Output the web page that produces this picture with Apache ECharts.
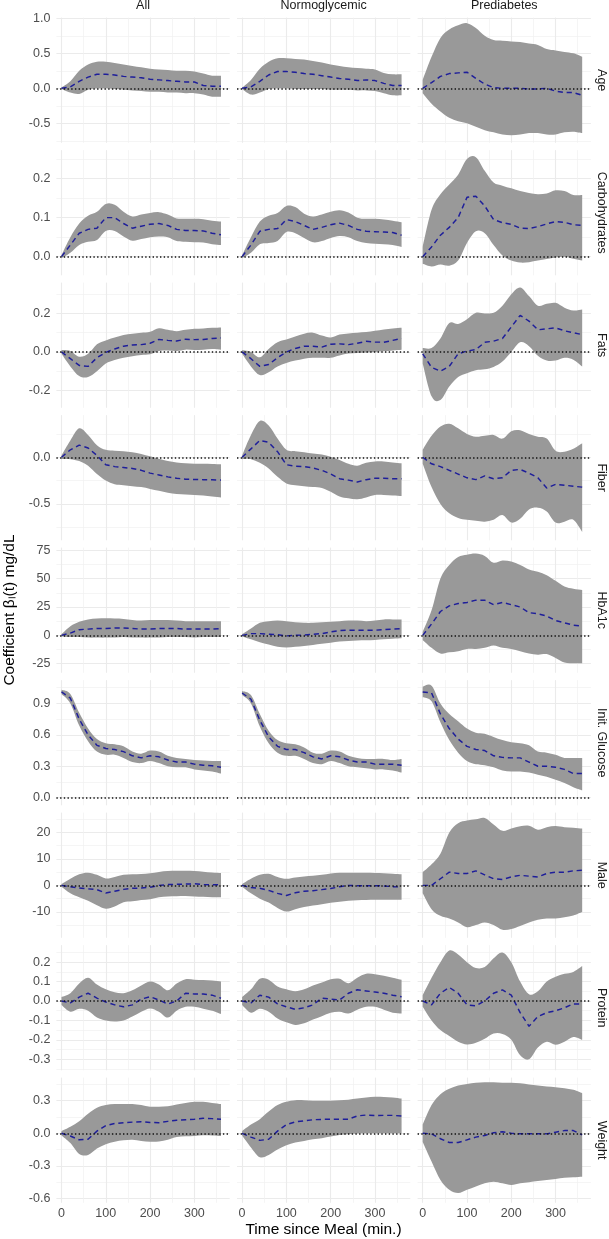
<!DOCTYPE html>
<html>
<head>
<meta charset="utf-8">
<script src="https://cdn.jsdelivr.net/npm/echarts@6/dist/echarts.min.js"></script>
<style>
  html,body{margin:0;padding:0;background:#fff;}
  #chart{width:609px;height:1239px;}
</style>
</head>
<body>
<div id="chart"></div>
<script>
// time since meal (min.)
const T = [0,20,40,60,80,100,120,140,160,180,200,220,240,260,280,300,320,340,360];

const colNames = ['All', 'Normoglycemic', 'Prediabetes'];
const rowNames = ['Age', 'Carbohydrates', 'Fats', 'Fiber', 'HbA1c', 'Init. Glucose', 'Male', 'Protein', 'Weight'];

// x axis breaks
const xMajor = [0, 100, 200, 300];
const xMinor = [50, 150, 250, 350];

// y axis breaks per row
const yMajor = [
  [-0.5, 0, 0.5, 1],
  [0, 0.1, 0.2],
  [-0.2, 0, 0.2],
  [-0.5, 0],
  [-25, 0, 25, 50, 75],
  [0, 0.3, 0.6, 0.9],
  [-10, 0, 10, 20],
  [-0.3, -0.2, -0.1, 0, 0.1, 0.2],
  [-0.6, -0.3, 0, 0.3]
];
const yMinor = [
  [-0.75, -0.25, 0.25, 0.75],
  [0.05, 0.15, 0.25],
  [-0.1, 0.1, 0.3],
  [-0.75, -0.25, 0.25],
  [-12.5, 12.5, 37.5, 62.5],
  [0.15, 0.45, 0.75, 1.05],
  [-15, -5, 5, 15, 25],
  [-0.35, -0.25, -0.15, -0.05, 0.05, 0.15, 0.25],
  [-0.45, -0.15, 0.15, 0.45]
];
const yRange = [
  [-0.779, 1.01], [-0.0477, 0.273], [-0.29, 0.36], [-0.89, 0.452], [-33, 77.3],
  [-0.073, 1.123], [-19.8, 27.5], [-0.357, 0.288], [-0.64, 0.513]
];
const yDigits = [1, 1, 1, 1, 0, 1, 0, 1, 1];

// ---- Age
const ageAllEst = [0, 0.02, 0.1, 0.16, 0.2, 0.2, 0.19, 0.17, 0.16, 0.15, 0.13, 0.12, 0.11, 0.1, 0.09, 0.09, 0.04, 0.03, 0.03];
const ageAllHi  = [0.01, 0.1, 0.25, 0.34, 0.38, 0.38, 0.36, 0.34, 0.32, 0.3, 0.28, 0.27, 0.26, 0.25, 0.25, 0.24, 0.21, 0.18, 0.18];
const ageAllLo  = [-0.01, -0.06, -0.08, -0.02, 0, 0, -0.01, -0.02, -0.03, -0.04, -0.05, -0.05, -0.06, -0.06, -0.07, -0.07, -0.09, -0.12, -0.12];
const ageNorEst = [0, 0.02, 0.1, 0.19, 0.24, 0.24, 0.23, 0.21, 0.2, 0.18, 0.16, 0.14, 0.13, 0.11, 0.12, 0.11, 0.07, 0.04, 0.04];
const ageNorHi  = [0.01, 0.12, 0.28, 0.38, 0.43, 0.43, 0.42, 0.41, 0.39, 0.37, 0.34, 0.32, 0.3, 0.29, 0.28, 0.27, 0.22, 0.2, 0.2];
const ageNorLo  = [-0.01, -0.09, -0.06, -0.01, 0, 0, -0.01, -0.01, -0.01, -0.01, -0.02, -0.02, -0.02, -0.03, -0.03, -0.04, -0.07, -0.1, -0.1];
const agePreEst = [0, 0.08, 0.17, 0.21, 0.22, 0.23, 0.14, 0.06, 0.01, 0, 0, 0, -0.01, -0.01, 0, -0.04, -0.06, -0.06, -0.1];
const agePreHi  = [0.12, 0.45, 0.72, 0.84, 0.9, 0.93, 0.86, 0.75, 0.69, 0.68, 0.67, 0.66, 0.64, 0.62, 0.56, 0.54, 0.52, 0.5, 0.45];
const agePreLo  = [-0.07, -0.22, -0.33, -0.42, -0.47, -0.5, -0.55, -0.6, -0.63, -0.66, -0.67, -0.66, -0.64, -0.64, -0.66, -0.66, -0.63, -0.62, -0.64];

// ---- Carbohydrates
const carbAllEst = [0, 0.03, 0.06, 0.07, 0.073, 0.1, 0.1, 0.085, 0.073, 0.078, 0.083, 0.085, 0.08, 0.07, 0.067, 0.067, 0.066, 0.06, 0.056];
const carbAllHi  = [0.004, 0.05, 0.085, 0.105, 0.115, 0.135, 0.133, 0.115, 0.103, 0.108, 0.112, 0.114, 0.108, 0.098, 0.097, 0.097, 0.096, 0.092, 0.09];
const carbAllLo  = [-0.004, 0.01, 0.03, 0.038, 0.043, 0.066, 0.066, 0.052, 0.041, 0.045, 0.05, 0.052, 0.05, 0.04, 0.038, 0.037, 0.036, 0.032, 0.03];
const carbNorEst = [0, 0.03, 0.065, 0.07, 0.072, 0.095, 0.09, 0.08, 0.07, 0.075, 0.082, 0.086, 0.08, 0.07, 0.065, 0.064, 0.063, 0.062, 0.055];
const carbNorHi  = [0.004, 0.05, 0.09, 0.105, 0.112, 0.13, 0.127, 0.11, 0.103, 0.108, 0.115, 0.119, 0.113, 0.1, 0.097, 0.097, 0.095, 0.092, 0.088];
const carbNorLo  = [-0.004, 0.01, 0.032, 0.035, 0.04, 0.063, 0.06, 0.048, 0.037, 0.04, 0.048, 0.053, 0.05, 0.04, 0.035, 0.033, 0.032, 0.03, 0.025];
const carbPreEst = [0, 0.025, 0.055, 0.075, 0.1, 0.152, 0.155, 0.13, 0.095, 0.087, 0.083, 0.073, 0.072, 0.077, 0.084, 0.09, 0.088, 0.082, 0.08];
const carbPreHi  = [0.025, 0.12, 0.16, 0.185, 0.21, 0.25, 0.255, 0.22, 0.19, 0.182, 0.175, 0.168, 0.163, 0.16, 0.162, 0.17, 0.168, 0.158, 0.158];
const carbPreLo  = [-0.018, -0.025, -0.02, -0.023, -0.01, 0.035, 0.065, 0.06, 0.03, 0.003, -0.01, -0.015, -0.014, -0.01, -0.006, -0.002, 0, -0.005, -0.01];

// ---- Fats
const fatAllEst = [0, -0.035, -0.07, -0.075, -0.03, -0.002, 0.015, 0.03, 0.036, 0.038, 0.045, 0.065, 0.06, 0.057, 0.066, 0.064, 0.065, 0.07, 0.073];
const fatAllHi  = [0.01, 0.005, -0.025, -0.01, 0.04, 0.06, 0.075, 0.088, 0.095, 0.1, 0.105, 0.123, 0.115, 0.108, 0.115, 0.12, 0.122, 0.125, 0.127];
const fatAllLo  = [-0.01, -0.075, -0.125, -0.13, -0.1, -0.06, -0.042, -0.03, -0.022, -0.016, -0.012, 0.005, 0.008, 0.005, 0.012, 0.01, 0.012, 0.015, 0.012];
const fatNorEst = [0, -0.035, -0.075, -0.065, -0.03, 0, 0.018, 0.03, 0.03, 0.025, 0.04, 0.042, 0.038, 0.045, 0.055, 0.052, 0.05, 0.06, 0.07];
const fatNorHi  = [0.01, 0, -0.028, 0.015, 0.05, 0.064, 0.08, 0.095, 0.1, 0.085, 0.075, 0.09, 0.096, 0.1, 0.103, 0.11, 0.117, 0.122, 0.125];
const fatNorLo  = [-0.01, -0.075, -0.12, -0.105, -0.075, -0.057, -0.045, -0.035, -0.03, -0.03, -0.03, -0.018, -0.008, -0.005, -0.003, 0, 0.003, 0.008, 0.012];
const fatPreEst = [-0.01, -0.08, -0.1, -0.075, -0.01, 0.005, 0.012, 0.05, 0.056, 0.07, 0.13, 0.19, 0.16, 0.115, 0.12, 0.125, 0.11, 0.1, 0.09];
const fatPreHi  = [0.02, 0.02, 0.07, 0.15, 0.145, 0.17, 0.203, 0.2, 0.203, 0.24, 0.3, 0.335, 0.29, 0.24, 0.25, 0.255, 0.23, 0.215, 0.22];
const fatPreLo  = [-0.06, -0.23, -0.25, -0.18, -0.13, -0.11, -0.095, -0.09, -0.078, -0.05, 0, 0.05, 0.03, -0.02, -0.045, -0.045, -0.03, -0.04, -0.075];

// ---- Fiber
const fibAllEst = [0, 0.08, 0.13, 0.1, 0.02, -0.08, -0.1, -0.11, -0.12, -0.14, -0.17, -0.19, -0.21, -0.225, -0.235, -0.238, -0.24, -0.242, -0.245];
const fibAllHi  = [0.02, 0.18, 0.31, 0.24, 0.13, 0.08, 0.07, 0.065, 0.055, 0.035, 0.01, -0.015, -0.04, -0.055, -0.065, -0.07, -0.07, -0.072, -0.075];
const fibAllLo  = [-0.02, -0.02, -0.04, -0.09, -0.18, -0.25, -0.29, -0.3, -0.31, -0.32, -0.34, -0.36, -0.38, -0.395, -0.4, -0.405, -0.41, -0.42, -0.43];
const fibNorEst = [0, 0.09, 0.18, 0.16, 0.06, -0.08, -0.095, -0.1, -0.115, -0.14, -0.18, -0.23, -0.245, -0.265, -0.24, -0.225, -0.225, -0.23, -0.23];
const fibNorHi  = [0.02, 0.24, 0.39, 0.34, 0.2, 0.08, 0.065, 0.055, 0.04, 0.03, 0.005, -0.03, -0.07, -0.09, -0.06, -0.045, -0.045, -0.055, -0.065];
const fibNorLo  = [-0.02, -0.02, -0.06, -0.12, -0.21, -0.28, -0.3, -0.31, -0.32, -0.33, -0.37, -0.42, -0.44, -0.45, -0.43, -0.405, -0.405, -0.41, -0.415];
const fibPreEst = [0, -0.07, -0.1, -0.14, -0.18, -0.22, -0.24, -0.2, -0.23, -0.22, -0.14, -0.13, -0.17, -0.22, -0.33, -0.29, -0.3, -0.31, -0.32];
const fibPreHi  = [0.08, 0.23, 0.33, 0.36, 0.31, 0.25, 0.22, 0.23, 0.24, 0.2, 0.28, 0.29, 0.25, 0.22, 0.2, 0.07, 0.06, 0.09, 0.15];
const fibPreLo  = [-0.07, -0.32, -0.5, -0.6, -0.65, -0.67, -0.68, -0.69, -0.67, -0.62, -0.7, -0.66, -0.56, -0.54, -0.58, -0.7, -0.69, -0.67, -0.8];

// ---- HbA1c
const hbaAllEst = [0, 2, 5, 5.5, 6, 6, 6.5, 6.5, 6, 5.5, 5.5, 6, 6, 6, 5.5, 5.5, 5.5, 5.5, 6];
const hbaAllHi  = [1, 8, 12, 14, 14.8, 15, 14.8, 14.5, 13.5, 13, 13.5, 13.5, 13.5, 13, 12.5, 12.5, 12.5, 12.5, 12.5];
const hbaAllLo  = [-1, -1.5, -1.5, -2, -2, -2, -1.8, -1.5, -1.8, -2, -2, -1.8, -1.5, -1.5, -1.5, -1.8, -1.5, -1.5, -1.5];
const hbaNorEst = [0, 1.5, 1.5, 1, 0.5, -0.5, 0, 0.3, 1, 1.5, 3, 4.3, 4.5, 4.5, 4.5, 4.5, 5, 5.5, 6];
const hbaNorHi  = [1, 6, 11, 12.5, 13, 12.5, 11.5, 11, 11, 11.5, 12, 12.5, 13, 13, 12.5, 13, 14, 14, 14];
const hbaNorLo  = [-1, -3.5, -6, -8, -10, -10.7, -10, -9.3, -8.5, -7.5, -6.5, -5.5, -5, -4.5, -4.3, -4, -3.5, -3, -2.6];
const hbaPreEst = [0, 10, 21, 26, 28, 29, 31, 31, 27, 29, 27, 25, 20, 19, 17, 13, 11, 9, 8];
const hbaPreHi  = [3, 22, 50, 62, 69, 71, 72, 70, 64, 66, 65, 62, 58, 56, 53, 48, 43, 41, 40];
const hbaPreLo  = [-4, -11, -16, -15, -14, -12, -12, -11, -9, -11, -12, -14, -16, -17, -16.5, -20, -24, -24.5, -24.5];

// ---- Init. Glucose
const gluAllEst = [1.01, 0.95, 0.75, 0.6, 0.5, 0.47, 0.46, 0.44, 0.4, 0.38, 0.4, 0.39, 0.36, 0.34, 0.34, 0.32, 0.31, 0.305, 0.29];
const gluAllHi  = [1.03, 0.99, 0.81, 0.66, 0.56, 0.52, 0.51, 0.49, 0.44, 0.42, 0.45, 0.44, 0.4, 0.38, 0.37, 0.36, 0.355, 0.35, 0.35];
const gluAllLo  = [0.99, 0.9, 0.69, 0.54, 0.44, 0.41, 0.41, 0.38, 0.34, 0.33, 0.35, 0.33, 0.3, 0.29, 0.29, 0.27, 0.26, 0.25, 0.23];
const gluNorEst = [1.0, 0.94, 0.74, 0.58, 0.49, 0.46, 0.46, 0.43, 0.39, 0.37, 0.4, 0.39, 0.36, 0.34, 0.34, 0.32, 0.32, 0.32, 0.31];
const gluNorHi  = [1.02, 0.98, 0.8, 0.64, 0.55, 0.52, 0.51, 0.48, 0.43, 0.42, 0.45, 0.44, 0.4, 0.38, 0.37, 0.37, 0.37, 0.36, 0.37];
const gluNorLo  = [0.98, 0.9, 0.68, 0.52, 0.43, 0.4, 0.4, 0.37, 0.33, 0.32, 0.35, 0.33, 0.3, 0.29, 0.28, 0.27, 0.27, 0.26, 0.24];
const gluPreEst = [1.01, 1.0, 0.8, 0.66, 0.56, 0.49, 0.46, 0.45, 0.4, 0.385, 0.38, 0.38, 0.34, 0.3, 0.3, 0.29, 0.27, 0.23, 0.23];
const gluPreHi  = [1.06, 1.07, 0.9, 0.8, 0.73, 0.66, 0.62, 0.61, 0.58, 0.55, 0.53, 0.52, 0.5, 0.44, 0.43, 0.41, 0.38, 0.38, 0.38];
const gluPreLo  = [0.96, 0.92, 0.72, 0.55, 0.43, 0.35, 0.32, 0.31, 0.29, 0.26, 0.25, 0.25, 0.24, 0.22, 0.2, 0.17, 0.14, 0.1, 0.07];

// ---- Male
const malAllEst = [0, -0.5, -1, -1.3, -1.6, -2.9, -2.2, -1.5, -1.1, -1, -0.7, 0, 0.3, 0.4, 0.5, 0.6, 0.3, 0.2, 0.3];
const malAllHi  = [0.5, 2.5, 4.2, 4.8, 4, 2.6, 3.2, 4, 4.2, 4.3, 4.6, 5.1, 5.4, 5.5, 5.5, 5.4, 5.2, 4.9, 4.7];
const malAllLo  = [-0.5, -3, -4.5, -5.8, -7.5, -8.8, -8, -6.4, -6, -5.5, -5.2, -4.5, -4.2, -4.1, -4, -4.2, -4.3, -4.5, -4.5];
const malNorEst = [0, -0.8, -1.1, -1.9, -3, -3.8, -2.8, -2.2, -2, -1.6, -1.2, -0.5, 0, -0.1, -0.1, -0.1, -0.2, -0.5, -0.6];
const malNorHi  = [0.5, 2.5, 4, 4.4, 3.2, 2.5, 3, 3.4, 3.6, 4, 4.5, 4.8, 4.8, 4.8, 4.8, 4.7, 4.6, 4.4, 4.2];
const malNorLo  = [-0.5, -3, -5, -6.5, -8.5, -9.9, -9, -8.2, -7.6, -7.1, -6.6, -6.2, -5.8, -5.6, -5.5, -5.4, -5.4, -5.4, -5.4];
const malPreEst = [0, 0, 2.5, 5, 4.5, 4.5, 5.5, 4, 2.5, 2.2, 3.2, 3.8, 3.5, 3.2, 4.5, 5, 5, 5.5, 5.7];
const malPreHi  = [5, 8, 12, 20, 23.5, 24.5, 25, 25.5, 23, 20.6, 21.5, 22.3, 22.5, 21, 22, 22.4, 22, 21.8, 21.5];
const malPreLo  = [-3, -9, -11.5, -12.5, -14, -15.8, -15, -14, -15, -16.8, -16.5, -15.3, -14, -13, -12.5, -12.5, -12, -11.4, -10.1];

// ---- Protein
const proAllEst = [0, -0.01, 0.02, 0.04, 0.015, -0.005, -0.02, -0.03, -0.02, 0.01, 0.022, 0.005, -0.016, 0, 0.04, 0.036, 0.036, 0.03, 0.014];
const proAllHi  = [0.02, 0.04, 0.09, 0.12, 0.085, 0.06, 0.045, 0.04, 0.055, 0.08, 0.1, 0.085, 0.055, 0.09, 0.112, 0.11, 0.108, 0.105, 0.1];
const proAllLo  = [-0.02, -0.055, -0.04, -0.05, -0.085, -0.1, -0.105, -0.1, -0.08, -0.055, -0.038, -0.055, -0.085, -0.05, -0.03, -0.03, -0.04, -0.05, -0.067];
const proNorEst = [0, -0.01, 0.03, 0.02, -0.015, -0.03, -0.043, -0.035, -0.02, 0.015, 0.01, 0.005, 0.04, 0.058, 0.052, 0.046, 0.04, 0.03, 0.022];
const proNorHi  = [0.02, 0.06, 0.115, 0.11, 0.075, 0.06, 0.05, 0.06, 0.08, 0.095, 0.112, 0.115, 0.092, 0.12, 0.14, 0.138, 0.13, 0.12, 0.109];
const proNorLo  = [-0.02, -0.06, -0.04, -0.055, -0.09, -0.11, -0.123, -0.115, -0.095, -0.078, -0.06, -0.055, -0.064, -0.045, -0.03, -0.03, -0.045, -0.06, -0.064];
const proPreEst = [0, -0.02, 0.04, 0.07, 0.04, -0.02, -0.025, 0, 0.04, 0.057, 0.03, -0.06, -0.13, -0.08, -0.06, -0.05, -0.035, -0.015, -0.015];
const proPreHi  = [0.03, 0.12, 0.2, 0.26, 0.24, 0.2, 0.17, 0.175, 0.22, 0.25, 0.2, 0.1, 0.035, 0.05, 0.1, 0.125, 0.14, 0.15, 0.18];
const proPreLo  = [-0.03, -0.1, -0.15, -0.18, -0.21, -0.224, -0.215, -0.195, -0.168, -0.17, -0.2, -0.28, -0.3, -0.24, -0.21, -0.225, -0.21, -0.185, -0.2];

// ---- Weight
const wgtAllEst = [0, -0.025, -0.06, -0.055, 0.02, 0.07, 0.09, 0.098, 0.103, 0.107, 0.1, 0.098, 0.11, 0.12, 0.125, 0.13, 0.138, 0.135, 0.13];
const wgtAllHi  = [0.02, 0.06, 0.11, 0.18, 0.235, 0.26, 0.27, 0.27, 0.27, 0.26, 0.245, 0.245, 0.25, 0.265, 0.28, 0.29, 0.29, 0.28, 0.27];
const wgtAllLo  = [-0.02, -0.09, -0.19, -0.2, -0.14, -0.1, -0.077, -0.065, -0.06, -0.07, -0.077, -0.075, -0.06, -0.035, -0.028, -0.025, -0.018, -0.02, -0.025];
const wgtNorEst = [0, -0.035, -0.065, -0.055, 0.02, 0.08, 0.105, 0.115, 0.125, 0.128, 0.13, 0.13, 0.13, 0.16, 0.168, 0.163, 0.165, 0.165, 0.16];
const wgtNorHi  = [0.02, 0.08, 0.13, 0.2, 0.26, 0.29, 0.305, 0.305, 0.3, 0.3, 0.3, 0.305, 0.31, 0.32, 0.33, 0.337, 0.335, 0.33, 0.32];
const wgtNorLo  = [-0.02, -0.13, -0.22, -0.2, -0.15, -0.11, -0.085, -0.07, -0.055, -0.045, -0.03, -0.015, -0.008, -0.002, 0, 0, 0, 0, 0];
const wgtPreEst = [0, -0.005, -0.05, -0.085, -0.085, -0.06, -0.035, -0.02, 0.005, 0.015, 0, -0.005, -0.005, -0.005, -0.005, 0.01, 0.025, 0.025, -0.015];
const wgtPreHi  = [0.08, 0.26, 0.36, 0.41, 0.44, 0.455, 0.465, 0.47, 0.47, 0.465, 0.465, 0.46, 0.45, 0.44, 0.43, 0.425, 0.415, 0.4, 0.37];
const wgtPreLo  = [-0.08, -0.26, -0.43, -0.52, -0.55, -0.52, -0.49, -0.46, -0.445, -0.46, -0.475, -0.46, -0.45, -0.44, -0.43, -0.42, -0.41, -0.405, -0.4];

// [lo, est, hi] per panel, rows x columns
const panels = [
  [[ageAllLo, ageAllEst, ageAllHi], [ageNorLo, ageNorEst, ageNorHi], [agePreLo, agePreEst, agePreHi]],
  [[carbAllLo, carbAllEst, carbAllHi], [carbNorLo, carbNorEst, carbNorHi], [carbPreLo, carbPreEst, carbPreHi]],
  [[fatAllLo, fatAllEst, fatAllHi], [fatNorLo, fatNorEst, fatNorHi], [fatPreLo, fatPreEst, fatPreHi]],
  [[fibAllLo, fibAllEst, fibAllHi], [fibNorLo, fibNorEst, fibNorHi], [fibPreLo, fibPreEst, fibPreHi]],
  [[hbaAllLo, hbaAllEst, hbaAllHi], [hbaNorLo, hbaNorEst, hbaNorHi], [hbaPreLo, hbaPreEst, hbaPreHi]],
  [[gluAllLo, gluAllEst, gluAllHi], [gluNorLo, gluNorEst, gluNorHi], [gluPreLo, gluPreEst, gluPreHi]],
  [[malAllLo, malAllEst, malAllHi], [malNorLo, malNorEst, malNorHi], [malPreLo, malPreEst, malPreHi]],
  [[proAllLo, proAllEst, proAllHi], [proNorLo, proNorEst, proNorHi], [proPreLo, proPreEst, proPreHi]],
  [[wgtAllLo, wgtAllEst, wgtAllHi], [wgtNorLo, wgtNorEst, wgtNorHi], [wgtPreLo, wgtPreEst, wgtPreHi]]
];

// layout
const FONT = '"Liberation Sans", Arial, Helvetica, sans-serif';
const colLeft = [56.4, 237.0, 417.6];
const panelW = 173.3;
const top0 = 17.6, rowStep = 132.5, panelH = 125.2;
const xMin = -11.5, xMax = 379.7;

// catmull-rom -> bezier, for the ribbon edges
function curve(pts) {
  let d = '';
  for (let i = 0; i < pts.length - 1; i++) {
    const p0 = pts[i - 1] || pts[i], p1 = pts[i], p2 = pts[i + 1], p3 = pts[i + 2] || p2;
    const c1x = p1[0] + (p2[0] - p0[0]) / 6, c1y = p1[1] + (p2[1] - p0[1]) / 6;
    const c2x = p2[0] - (p3[0] - p1[0]) / 6, c2y = p2[1] - (p3[1] - p1[1]) / 6;
    d += ' C' + c1x + ',' + c1y + ' ' + c2x + ',' + c2y + ' ' + p2[0] + ',' + p2[1];
  }
  return d;
}

const grid = [], xAxis = [], yAxis = [], series = [], graphic = [];

rowNames.forEach(function (rn, r) {
  colNames.forEach(function (cn, c) {
    const g = r * 3 + c;
    const top = top0 + r * rowStep;
    grid.push({left: colLeft[c], top: top, width: panelW, height: panelH,
      containLabel: false, outerBoundsMode: 'none'});

    // major + minor x
    xAxis.push({
      type: 'value', gridIndex: g, min: xMin, max: xMax,
      axisLine: {show: false},
      axisTick: {show: false, customValues: xMajor},
      axisLabel: {show: r === rowNames.length - 1, customValues: xMajor,
        color: '#4D4D4D', fontSize: 12.5, fontFamily: FONT, margin: 4},
      splitLine: {show: true, lineStyle: {color: '#EBEBEB', width: 1.1}}
    });
    xAxis.push({
      type: 'value', gridIndex: g, min: xMin, max: xMax,
      axisLine: {show: false},
      axisTick: {show: false, customValues: xMinor},
      axisLabel: {show: false},
      splitLine: {show: true, lineStyle: {color: '#F1F1F1', width: 0.7}}
    });
    // major + minor y
    yAxis.push({
      type: 'value', gridIndex: g, min: yRange[r][0], max: yRange[r][1],
      axisLine: {show: false},
      axisTick: {show: false, customValues: yMajor[r]},
      axisLabel: {show: c === 0, customValues: yMajor[r],
        color: '#4D4D4D', fontSize: 12.5, fontFamily: FONT, margin: 6,
        formatter: function (v) { return Number(v).toFixed(yDigits[r]); }},
      splitLine: {show: true, lineStyle: {color: '#EBEBEB', width: 1.1}}
    });
    yAxis.push({
      type: 'value', gridIndex: g, min: yRange[r][0], max: yRange[r][1],
      axisLine: {show: false},
      axisTick: {show: false, customValues: yMinor[r]},
      axisLabel: {show: false},
      splitLine: {show: true, lineStyle: {color: '#F1F1F1', width: 0.7}}
    });

    const lo = panels[r][c][0], est = panels[r][c][1], hi = panels[r][c][2];

    // ribbon
    series.push({
      type: 'custom', xAxisIndex: 2 * g, yAxisIndex: 2 * g, silent: true, z: 2,
      data: [[T[0], est[0]]],
      renderItem: function (params, api) {
        const up = T.map(function (t, i) { return api.coord([t, hi[i]]); });
        const dn = T.map(function (t, i) { return api.coord([t, lo[i]]); }).reverse();
        const d = 'M' + up[0][0] + ',' + up[0][1] + curve(up) +
          ' L' + dn[0][0] + ',' + dn[0][1] + curve(dn) + ' Z';
        return {type: 'path', shape: {pathData: d}, style: {fill: '#999999', stroke: null}};
      }
    });

    // estimate + zero line
    series.push({
      type: 'line', xAxisIndex: 2 * g, yAxisIndex: 2 * g, silent: true, z: 3,
      symbol: 'none', smooth: false,
      data: T.map(function (t, i) { return [t, est[i]]; }),
      lineStyle: {color: '#1e1e9a', width: 1.45, type: [5.2, 3.8]},
      markLine: {
        silent: true, symbol: ['none', 'none'], label: {show: false},
        lineStyle: {color: '#111111', width: 1.6, type: [1.4, 2.3]},
        data: [{yAxis: 0}]
      }
    });

    if (r === 0) {
      graphic.push({type: 'text', x: colLeft[c] + panelW / 2, y: 6,
        style: {text: cn, fill: '#1A1A1A', fontSize: 12.5, fontFamily: FONT,
          textAlign: 'center', textVerticalAlign: 'middle'}});
    }
  });
  graphic.push({type: 'text', x: 601, y: top0 + r * rowStep + panelH / 2, rotation: -Math.PI / 2,
    style: {text: rn, fill: '#1A1A1A', fontSize: 12.5, fontFamily: FONT,
      textAlign: 'center', textVerticalAlign: 'middle'}});
});

// axis titles
graphic.push({type: 'text', x: 323.5, y: 1230,
  style: {text: 'Time since Meal (min.)', fill: '#000', fontSize: 15.5, fontFamily: FONT,
    textAlign: 'center', textVerticalAlign: 'middle'}});
graphic.push({type: 'text', x: 10, y: 610, rotation: Math.PI / 2,
  style: {text: 'Coefficient βₗ(t) mg/dL', fill: '#000', fontSize: 15.5, fontFamily: FONT,
    textAlign: 'center', textVerticalAlign: 'middle'}});

const chart = echarts.init(document.getElementById('chart'), null, {renderer: 'canvas'});
chart.setOption({
  animation: false,
  backgroundColor: '#ffffff',
  grid: grid,
  xAxis: xAxis,
  yAxis: yAxis,
  series: series,
  graphic: graphic
});
</script>
</body>
</html>
